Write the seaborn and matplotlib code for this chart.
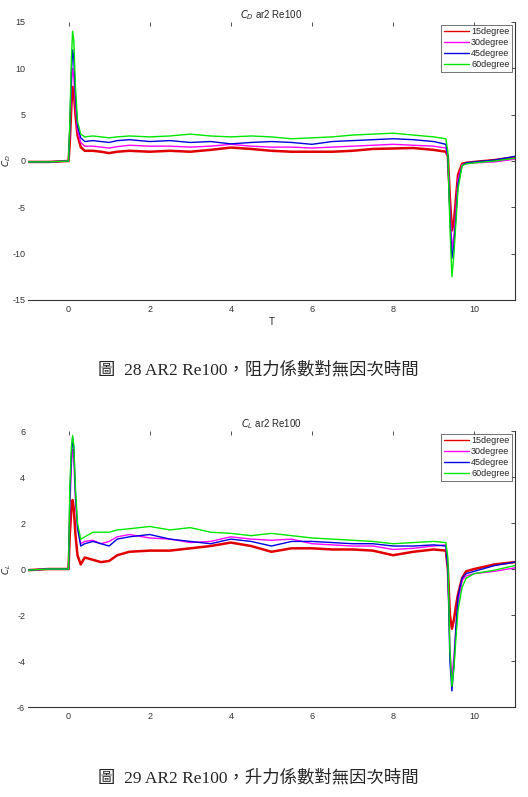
import pandas as pd
import matplotlib
matplotlib.use("Agg")
import matplotlib.pyplot as plt
import seaborn as sns

# time samples shared by all series
T = [-1, -0.5, 0, 0.03, 0.07, 0.1, 0.13, 0.17, 0.22, 0.3, 0.4, 0.6, 0.8, 1.0,
     1.2, 1.5, 2.0, 2.5, 3.0, 3.5, 4.0, 4.5, 5.0, 5.5, 6.0, 6.5, 7.0, 7.5,
     8.0, 8.5, 9.0, 9.3, 9.35, 9.4, 9.45, 9.5, 9.55, 9.6, 9.7, 9.8, 10.0,
     10.5, 11.0]

labels = ["15degree", "30degree", "45degree", "60degree"]
colors = ["#e00000", "#ff00ff", "#0000e0", "#00e600"]

# drag coefficient C_D
cd_15 = [-0.1, -0.1, 0, 2, 6, 8, 7.5, 5, 2.8, 1.5, 1.1, 1.1, 1.0, 0.85,
         1.0, 1.1, 1.0, 1.1, 1.0, 1.2, 1.45, 1.3, 1.1, 1.0, 1.0, 1.0, 1.1, 1.3,
         1.35, 1.4, 1.2, 1.0, 0.5, -4, -7.5, -6.5, -4, -1.5, -0.3, -0.2, -0.1,
         0.1, 0.4]
cd_30 = [-0.1, -0.1, 0, 3, 8, 10, 9, 6, 3.3, 2.0, 1.6, 1.6, 1.5, 1.4,
         1.55, 1.7, 1.6, 1.6, 1.5, 1.6, 1.8, 1.6, 1.5, 1.5, 1.4, 1.5, 1.6, 1.7,
         1.8, 1.7, 1.6, 1.4, 0.5, -5, -9.5, -8, -5, -2, -0.4, -0.3, -0.2,
         -0.1, 0.2]
cd_45 = [-0.1, -0.1, 0, 3.5, 9.5, 12, 11, 7, 3.8, 2.5, 2.1, 2.2, 2.1, 2.0,
         2.2, 2.3, 2.1, 2.2, 2.0, 2.1, 1.85, 2.0, 2.1, 2.0, 1.8, 2.1, 2.2, 2.3,
         2.4, 2.3, 2.1, 1.8, 0.5, -6, -10.5, -9, -6, -2.5, -0.5, -0.2, -0.1,
         0.1, 0.5]
cd_60 = [-0.1, -0.1, 0, 4, 11, 14, 13, 8, 4.3, 2.9, 2.6, 2.7, 2.6, 2.5,
         2.6, 2.7, 2.6, 2.7, 2.9, 2.7, 2.6, 2.7, 2.6, 2.4, 2.5, 2.6, 2.8, 2.9,
         3.0, 2.8, 2.6, 2.4, 1.0, -7, -12.5, -10, -6.5, -3, -0.5, -0.3, -0.2,
         0.0, 0.3]

# lift coefficient C_L
cl_15 = [-0.05, 0, 0, 1.5, 2.6, 3.0, 2.6, 1.5, 0.6, 0.2, 0.5, 0.4, 0.3, 0.35,
         0.6, 0.75, 0.8, 0.8, 0.9, 1.0, 1.15, 1.0, 0.75, 0.9, 0.9, 0.85, 0.85, 0.8,
         0.6, 0.75, 0.85, 0.8, 0.0, -2.0, -2.6, -2.2, -1.6, -1.1, -0.4, -0.1, 0.0,
         0.2, 0.3]
cl_30 = [-0.05, 0, 0, 2.5, 4.5, 5.2, 4.8, 3.0, 1.8, 1.1, 1.2, 1.25, 1.1, 1.2,
         1.4, 1.5, 1.35, 1.3, 1.15, 1.2, 1.4, 1.3, 1.25, 1.3, 1.1, 1.05, 1.0, 1.0,
         0.85, 0.9, 1.0, 1.05, 0.0, -3.5, -4.7, -3.8, -2.5, -1.5, -0.5, -0.3, -0.2,
         -0.1, 0.05]
cl_45 = [-0.05, 0, 0, 3, 5, 5.7, 5.2, 3.3, 1.8, 1.0, 1.1, 1.2, 1.1, 1.0,
         1.3, 1.4, 1.5, 1.3, 1.2, 1.1, 1.3, 1.2, 1.0, 1.2, 1.2, 1.15, 1.1, 1.1,
         1.0, 1.0, 1.05, 1.0, 0.0, -4, -5.3, -4.2, -2.5, -1.2, -0.4, -0.2, -0.1,
         0.15, 0.3]
cl_60 = [-0.05, 0, 0, 3.5, 5.3, 5.8, 5.4, 3.5, 2.0, 1.3, 1.4, 1.6, 1.6, 1.6,
         1.7, 1.75, 1.85, 1.7, 1.8, 1.6, 1.55, 1.45, 1.55, 1.45, 1.35, 1.3, 1.25, 1.2,
         1.1, 1.15, 1.2, 1.15, 0.5, -3.5, -5.1, -4.3, -3, -1.8, -0.8, -0.4, -0.2,
         -0.05, 0.15]


def long_frame(series):
    rows = []
    for lab, vals in zip(labels, series):
        for t, v in zip(T, vals):
            rows.append({"T": t, "value": v, "angle": lab})
    return pd.DataFrame(rows)


sns.set_style("white")
plt.rcParams["font.family"] = ["Liberation Sans", "DejaVu Sans"]
plt.rcParams["axes.unicode_minus"] = False

fig = plt.figure(figsize=(5.28, 7.97), dpi=100)
ax1 = fig.add_axes([0.053, 0.6236, 0.922, 0.3488])
ax2 = fig.add_axes([0.053, 0.1129, 0.922, 0.3463])

panels = [
    (ax1, [cd_15, cd_30, cd_45, cd_60], (-15, 15), [-15, -10, -5, 0, 5, 10, 15],
     r"$C_D$ ar2 Re100", r"$C_D$", "T"),
    (ax2, [cl_15, cl_30, cl_45, cl_60], (-6, 6), [-6, -4, -2, 0, 2, 4, 6],
     r"$C_L$ ar2 Re100", r"$C_L$", ""),
]

for ax, series, ylim, yticks, title, ylab, xlab in panels:
    df = long_frame(series)
    sns.lineplot(data=df, x="T", y="value", hue="angle", palette=colors,
                 ax=ax, linewidth=1.0, estimator=None, sort=False)
    # the 15degree trace is a noisy, thicker band in the original
    ax.lines[0].set_linewidth(1.8)
    ax.set_xlim(-1, 11)
    ax.set_ylim(*ylim)
    ax.set_xticks([0, 2, 4, 6, 8, 10])
    ax.set_yticks(yticks)
    ax.tick_params(direction="in", length=3, labelsize=6.5, top=True, right=True,
                   colors="#333333", width=0.6)
    ax.tick_params(axis="y", pad=2)
    for side in ["top", "left"]:
        ax.spines[side].set_visible(False)
    for side in ["bottom", "right"]:
        ax.spines[side].set_color("#333333")
        ax.spines[side].set_linewidth(0.8)
    ax.set_title(title, fontsize=7, pad=3)
    ax.set_ylabel(ylab, fontsize=6.5)
    ax.yaxis.set_label_coords(-0.03, 0.5)
    ax.set_xlabel(xlab, fontsize=7, labelpad=2)
    leg = ax.legend(loc="upper right", fontsize=6.5, frameon=True, fancybox=False,
                    borderpad=0.3, labelspacing=0.2, handlelength=2.8,
                    handletextpad=0.2, borderaxespad=0.3)
    leg.get_frame().set_edgecolor("#333333")
    leg.get_frame().set_linewidth(0.6)
    for line in leg.get_lines():
        line.set_linewidth(1.0)

cap_font = ["Liberation Serif", "Noto Sans CJK TC"]
fig.text(0.49, 0.5358, "圖  28 AR2 Re100，阻力係數對無因次時間", ha="center",
         va="center", fontsize=12.5, family=cap_font)
fig.text(0.49, 0.0238, "圖  29 AR2 Re100，升力係數對無因次時間", ha="center",
         va="center", fontsize=12.5, family=cap_font)

fig.savefig("out.png", dpi=100)
plt.close(fig)
